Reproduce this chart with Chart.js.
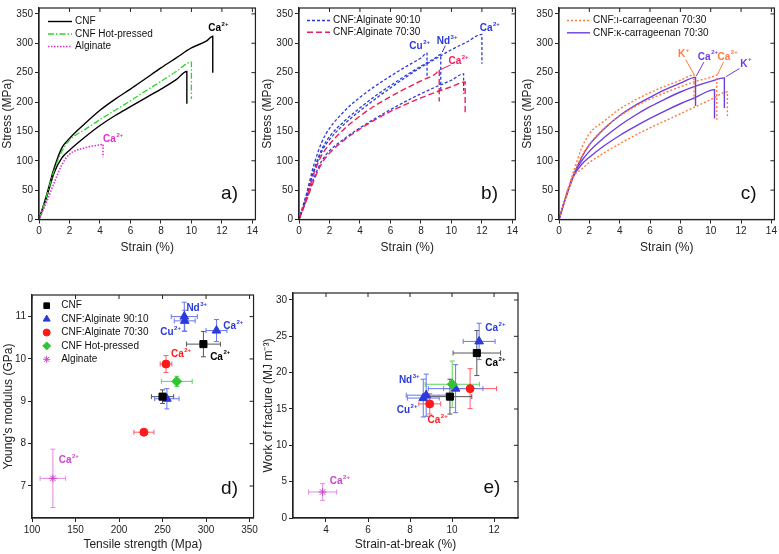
<!DOCTYPE html>
<html>
<head>
<meta charset="utf-8">
<script src="https://cdn.jsdelivr.net/npm/chart.js@4.4.1/dist/chart.umd.min.js"></script>
<style>
  html, body { margin: 0; padding: 0; background: #fff; }
  body { width: 779px; height: 554px; position: relative; overflow: hidden; }
  canvas { position: absolute; }
</style>
</head>
<body>
<canvas id="pa" width="260" height="256" style="left:0;top:0"></canvas>
<canvas id="pb" width="260" height="256" style="left:260px;top:0"></canvas>
<canvas id="pc" width="259" height="256" style="left:520px;top:0"></canvas>
<canvas id="pd" width="260" height="274" style="left:0;top:280px"></canvas>
<canvas id="pe" width="264" height="274" style="left:260px;top:280px"></canvas>
<script>
// ---- tick labels ----
var strainTicks  = [0, 2, 4, 6, 8, 10, 12, 14];
var stressTicks  = [0, 50, 100, 150, 200, 250, 300, 350];
var tensileTicks = [100, 150, 200, 250, 300, 350];
var modulusTicks = [7, 8, 9, 10, 11];
var breakTicks   = [4, 6, 8, 10, 12];
var workTicks    = [0, 5, 10, 15, 20, 25, 30];

// ---- a) stress-strain, strain (%) / stress (MPa) ----
var aCnf1X = [0, 0.5, 1, 1.5, 2, 3, 4, 5, 6, 7, 8, 9, 10, 11, 11.4, 11.4];
var aCnf1Y = [0, 42, 88, 122, 138, 163, 186, 205, 222, 240, 258, 275, 292, 304, 312, 250];
var aCnf2X = [0, 0.5, 1, 1.5, 2, 3, 4, 5, 6, 7, 8, 9, 9.7, 9.7];
var aCnf2Y = [0, 38, 80, 105, 118, 140, 160, 177, 192, 207, 222, 238, 252, 197];
var aHotX  = [0, 0.5, 1, 1.5, 2, 3, 4, 5, 6, 7, 8, 9, 10, 10];
var aHotY  = [0, 40, 84, 116, 135, 153, 170, 186, 202, 219, 235, 252, 268, 205];
var aAlgX  = [0, 0.5, 1, 1.5, 2, 2.5, 3, 3.5, 4, 4.2, 4.2];
var aAlgY  = [0, 30, 63, 93, 111, 118, 122, 125, 127, 128, 106];

// ---- b) CNF:Alginate ----
var bCuX  = [0, 0.5, 1, 1.5, 2, 3, 4, 5, 6, 7, 8, 8.4, 8.4];
var bCuY  = [0, 45, 95, 132, 155, 185, 208, 227, 244, 260, 275, 283, 240];
var bNdX  = [0, 0.5, 1, 1.5, 2, 3, 4, 5, 6, 7, 8, 9, 9.3, 9.3];
var bNdY  = [0, 40, 86, 120, 141, 168, 190, 210, 228, 245, 261, 276, 281, 218];
var bCaX  = [0, 0.5, 1, 1.5, 2, 3, 4, 5, 6, 7, 8, 9, 10, 11, 12, 12];
var bCaY  = [0, 40, 83, 116, 136, 163, 185, 205, 224, 242, 259, 274, 289, 302, 315, 265];
var bLowX = [0, 0.5, 1, 1.5, 2, 3, 4, 5, 6, 7, 8, 9, 10, 10.8, 10.8];
var bLowY = [0, 35, 72, 100, 117, 138, 156, 172, 187, 201, 214, 226, 237, 248, 214];
var bR1X  = [0, 0.5, 1, 1.5, 2, 3, 4, 5, 6, 7, 8, 9, 9.2, 9.2];
var bR1Y  = [0, 38, 80, 110, 128, 155, 176, 194, 209, 223, 236, 249, 255, 201];
var bR2X  = [0, 0.5, 1, 1.5, 2, 3, 4, 5, 6, 7, 8, 9, 10, 10.9, 10.9];
var bR2Y  = [0, 33, 68, 96, 113, 136, 154, 170, 184, 196, 207, 217, 226, 234, 182];

// ---- c) carrageenan ----
var cO1X = [0, 0.5, 1, 1.5, 2, 3, 4, 5, 6, 7, 8, 8.9, 8.9];
var cO1Y = [0, 45, 85, 122, 146, 168, 188, 203, 216, 227, 237, 246, 204];
var cP1X = [0, 0.5, 1, 1.5, 2, 3, 4, 5, 6, 7, 8, 9, 9];
var cP1Y = [0, 42, 78, 106, 127, 155, 177, 194, 208, 221, 232, 242, 193];
var cO2X = [0, 0.5, 1, 1.5, 2, 3, 4, 5, 6, 7, 8, 9, 10, 10.4, 10.4];
var cO2Y = [0, 42, 80, 108, 128, 156, 176, 192, 205, 216, 226, 235, 242, 246, 170];
var cP3X = [0, 0.5, 1, 1.5, 2, 3, 4, 5, 6, 7, 8, 9, 10, 10.9, 10.9];
var cP3Y = [0, 42, 78, 100, 116, 140, 160, 177, 192, 205, 217, 227, 235, 241, 190];
var cP2X = [0, 0.5, 1, 1.5, 2, 3, 4, 5, 6, 7, 8, 9, 10.25, 10.25];
var cP2Y = [0, 42, 76, 94, 106, 126, 143, 158, 172, 185, 197, 208, 221, 172];
var cO3X = [0, 0.5, 1, 1.5, 2, 3, 4, 5, 6, 7, 8, 9, 10, 11.1, 11.1];
var cO3Y = [0, 40, 74, 86, 97, 114, 129, 143, 156, 168, 180, 192, 204, 217, 176];

// ---- d) tensile strength (MPa) vs Young's modulus (GPa) ----
var dCnfX = [250, 297],  dCnfXErr = [12.8, 19.5], dCnfY = [9.11, 10.35], dCnfYErr = [0.16, 0.30];
var dA90X = [275, 275.5, 312, 255], dA90XErr = [15, 12, 12, 14];
var dA90Y = [11.0, 10.9, 10.67, 9.06], dA90YErr = [0.34, 0.25, 0.26, 0.24];
var dA70X = [254, 228.6], dA70XErr = [6.7, 11.5], dA70Y = [9.88, 8.27], dA70YErr = [0.2, 0.05];
var dHotX = [266.4], dHotXErr = [17.7], dHotY = [9.47], dHotYErr = [0.12];
var dAlgX = [124],   dAlgXErr = [14.7], dAlgY = [7.18], dAlgYErr = [0.69];

// ---- e) strain-at-break (%) vs work of fracture (MJ m-3) ----
var eCnfX = [11.18, 9.9], eCnfXErr = [1.13, 1.04], eCnfY = [22.7, 16.7], eCnfYErr = [3.1, 2.4];
var eA90X = [11.29, 10.17, 8.77, 8.63], eA90XErr = [0.76, 1.3, 0.95, 0.76];
var eA90Y = [24.3, 17.8, 16.9, 16.5],   eA90YErr = [2.5, 3.3, 2.9, 2.6];
var eA70X = [10.86, 8.94], eA70XErr = [1.26, 0.52], eA70Y = [17.8, 15.7], eA70YErr = [2.75, 1.4];
var eHotX = [10.01], eHotXErr = [1.29], eHotY = [18.4], eHotYErr = [3.2];
var eAlgX = [3.84],  eAlgXErr = [0.67], eAlgY = [3.58], eAlgYErr = [1.15];

var FAMILY = '"Liberation Sans", Arial, sans-serif';
var INK = '#222';
var C = {
  black: '#000000', green: '#2bd42b', magenta: '#e030d0',
  blue: '#2b3bd9', red: '#ee1d5a', orange: '#ff7a3d', purple: '#6b3fe0',
  dRed: '#ff1a1a', dGreen: '#33c433', dMag: '#cc44cc'
};
Chart.defaults.font.family = FAMILY;

function xy(xs, ys) {
  return xs.map(function (x, i) { return { x: x, y: ys[i] }; });
}

function curve(xs, ys, color, dash, width) {
  return {
    data: xy(xs, ys), showLine: true, borderColor: color, backgroundColor: color,
    borderWidth: width || 1.3, borderDash: dash || [], pointRadius: 0,
    cubicInterpolationMode: 'monotone'
  };
}

function marks(xs, ys, style, radius, color) {
  return {
    data: xy(xs, ys), showLine: false, pointStyle: style, pointRadius: radius,
    backgroundColor: color, borderColor: color, borderWidth: 1
  };
}

function axis(pos, min, max, ticks, title, size, titlePad) {
  return {
    type: 'linear', position: pos, min: min, max: max,
    afterBuildTicks: function (s) { s.ticks = ticks.map(function (v) { return { value: v }; }); },
    afterFit: function (s) { if (pos === 'bottom') s.height = size; else s.width = size; },
    grid: { drawOnChartArea: false, tickLength: 4, color: INK, lineWidth: 1 },
    border: { display: true, color: INK, width: 1.2 },
    ticks: { color: INK, font: { size: 10 }, padding: 2, maxRotation: 0, autoSkip: false },
    title: { display: true, text: title, color: INK, font: { size: 12 }, padding: { top: titlePad, bottom: titlePad } }
  };
}

function supText(ctx, cx, cy, base, sup, color, size, bold) {
  var f = (bold ? 'bold ' : '') + size + 'px ' + FAMILY;
  var fs = (bold ? 'bold ' : '') + Math.round(size * 0.62) + 'px ' + FAMILY;
  ctx.font = f;
  var w1 = ctx.measureText(base).width;
  ctx.font = fs;
  var w2 = sup ? ctx.measureText(sup).width : 0;
  var x = cx - (w1 + w2) / 2;
  ctx.fillStyle = color;
  ctx.textBaseline = 'middle';
  ctx.textAlign = 'left';
  ctx.font = f;
  ctx.fillText(base, x, cy);
  if (sup) {
    ctx.font = fs;
    ctx.fillText(sup, x + w1 + 0.5, cy - size * 0.4);
  }
}

function drawMarker(ctx, style, x, y, r, color) {
  ctx.fillStyle = color;
  ctx.strokeStyle = color;
  ctx.lineWidth = 1;
  ctx.setLineDash([]);
  if (Chart.helpers && Chart.helpers.drawPoint) {
    Chart.helpers.drawPoint(ctx, { pointStyle: style, radius: r, rotation: 0, borderWidth: 1 }, x, y);
  } else {
    ctx.fillRect(x - r * 0.7, y - r * 0.7, r * 1.4, r * 1.4);
  }
}

// frame, inner ticks, legend, labels and error bars
function decor(spec) {
  return {
    id: 'decor',
    beforeDatasetsDraw: function (chart) {
      if (!spec.errors) return;
      var ctx = chart.ctx, sx = chart.scales.x, sy = chart.scales.y;
      ctx.save();
      spec.errors.forEach(function (e) {
        ctx.strokeStyle = e.color;
        ctx.lineWidth = 1;
        e.xs.forEach(function (xv, i) {
          var px = sx.getPixelForValue(xv), py = sy.getPixelForValue(e.ys[i]);
          var x0 = sx.getPixelForValue(xv - e.xe[i]), x1 = sx.getPixelForValue(xv + e.xe[i]);
          var y0 = sy.getPixelForValue(e.ys[i] - e.ye[i]), y1 = sy.getPixelForValue(e.ys[i] + e.ye[i]);
          ctx.beginPath();
          ctx.moveTo(x0, py); ctx.lineTo(x1, py);
          ctx.moveTo(x0, py - 2.5); ctx.lineTo(x0, py + 2.5);
          ctx.moveTo(x1, py - 2.5); ctx.lineTo(x1, py + 2.5);
          ctx.moveTo(px, y0); ctx.lineTo(px, y1);
          ctx.moveTo(px - 2.5, y0); ctx.lineTo(px + 2.5, y0);
          ctx.moveTo(px - 2.5, y1); ctx.lineTo(px + 2.5, y1);
          ctx.stroke();
        });
      });
      ctx.restore();
    },
    afterDraw: function (chart) {
      var ctx = chart.ctx, ca = chart.chartArea, sx = chart.scales.x, sy = chart.scales.y;
      ctx.save();
      ctx.setLineDash([]);
      ctx.strokeStyle = INK;
      ctx.lineWidth = 1.2;
      ctx.strokeRect(ca.left, ca.top, ca.right - ca.left, ca.bottom - ca.top);
      ctx.lineWidth = 1;
      ctx.beginPath();
      sx.ticks.forEach(function (t) {
        var p = sx.getPixelForValue(t.value);
        ctx.moveTo(p, ca.top); ctx.lineTo(p, ca.top + 4);
      });
      sy.ticks.forEach(function (t) {
        var p = sy.getPixelForValue(t.value);
        ctx.moveTo(ca.right, p); ctx.lineTo(ca.right - 4, p);
      });
      ctx.stroke();

      var lg = spec.legend;
      if (lg) {
        lg.items.forEach(function (it, i) {
          var y = ca.top + lg.y + i * lg.dy;
          var x = ca.left + lg.x;
          if (lg.type === 'line') {
            ctx.strokeStyle = it.color;
            ctx.lineWidth = it.width || 1.3;
            ctx.setLineDash(it.dash || []);
            ctx.beginPath();
            ctx.moveTo(x, y); ctx.lineTo(x + lg.len, y);
            ctx.stroke();
            ctx.setLineDash([]);
            x += lg.len + 3;
          } else {
            drawMarker(ctx, it.style, x, y, it.r, it.color);
            x += lg.gap;
          }
          ctx.fillStyle = '#111';
          ctx.font = '10px ' + FAMILY;
          ctx.textAlign = 'left';
          ctx.textBaseline = 'middle';
          ctx.fillText(it.label, x, y);
        });
      }

      (spec.leaders || []).forEach(function (l) {
        ctx.strokeStyle = l.color;
        ctx.lineWidth = 1;
        ctx.beginPath();
        ctx.moveTo(sx.getPixelForValue(l.x0), sy.getPixelForValue(l.y0));
        ctx.lineTo(sx.getPixelForValue(l.x1), sy.getPixelForValue(l.y1));
        ctx.stroke();
      });

      (spec.notes || []).forEach(function (n) {
        supText(ctx, sx.getPixelForValue(n.x), sy.getPixelForValue(n.y), n.base, n.sup,
          n.color, n.size || 10, n.bold !== false);
      });
      ctx.restore();
    }
  };
}

function makeChart(id, datasets, scales, padding, spec) {
  return new Chart(document.getElementById(id), {
    type: 'scatter',
    data: { datasets: datasets },
    options: {
      responsive: false, animation: false, events: [],
      layout: { padding: padding },
      scales: scales,
      plugins: { legend: { display: false }, tooltip: { enabled: false } }
    },
    plugins: [decor(spec)]
  });
}

function strainAxes() {
  return {
    x: axis('bottom', 0, 14.2, strainTicks, 'Strain (%)', 36.5, 0.8),
    y: axis('left', 0, 360, stressTicks, 'Stress (MPa)', 39, 0)
  };
}
var topPad = { left: 0, top: 3, right: 4, bottom: 0 };

// a)
makeChart('pa', [
  curve(aAlgX, aAlgY, C.magenta, [1.5, 1.5], 1.6),
  curve(aHotX, aHotY, C.green, [6, 2, 1.5, 2], 1.3),
  curve(aCnf2X, aCnf2Y, C.black, [], 1.4),
  curve(aCnf1X, aCnf1Y, C.black, [], 1.4)
], strainAxes(), topPad, {
  legend: { type: 'line', x: 9, y: 13.5, dy: 12.5, len: 24, items: [
    { label: 'CNF', color: C.black, width: 1.4 },
    { label: 'CNF Hot-pressed', color: C.green, dash: [6, 2, 1.5, 2] },
    { label: 'Alginate', color: C.magenta, dash: [1.5, 1.5], width: 1.6 }
  ] },
  notes: [
    { x: 11.75, y: 325, base: 'Ca', sup: '2+', color: '#000' },
    { x: 4.85, y: 137, base: 'Ca', sup: '2+', color: C.magenta },
    { x: 12.5, y: 44, base: 'a)', sup: '', color: '#111', size: 19, bold: false }
  ]
});

// b)
makeChart('pb', [
  curve(bR2X, bR2Y, C.red, [6, 3], 1.4),
  curve(bR1X, bR1Y, C.red, [6, 3], 1.4),
  curve(bLowX, bLowY, C.blue, [3, 2], 1.3),
  curve(bCaX, bCaY, C.blue, [3, 2], 1.3),
  curve(bNdX, bNdY, C.blue, [3, 2], 1.3),
  curve(bCuX, bCuY, C.blue, [3, 2], 1.3)
], strainAxes(), topPad, {
  legend: { type: 'line', x: 8, y: 12.5, dy: 11.8, len: 23, items: [
    { label: 'CNF:Alginate 90:10', color: C.blue, dash: [3, 2] },
    { label: 'CNF:Alginate 70:30', color: C.red, dash: [6, 3], width: 1.4 }
  ] },
  leaders: [
    { x0: 9.6, y0: 296, x1: 9.4, y1: 285, color: C.blue },
    { x0: 9.95, y0: 263, x1: 9.25, y1: 255, color: C.red }
  ],
  notes: [
    { x: 12.5, y: 326, base: 'Ca', sup: '2+', color: C.blue },
    { x: 7.9, y: 295, base: 'Cu', sup: '2+', color: C.blue },
    { x: 9.7, y: 304, base: 'Nd', sup: '3+', color: C.blue },
    { x: 10.45, y: 270, base: 'Ca', sup: '2+', color: C.red },
    { x: 12.5, y: 44, base: 'b)', sup: '', color: '#111', size: 19, bold: false }
  ]
});

// c)
makeChart('pc', [
  curve(cO3X, cO3Y, C.orange, [2, 2], 1.4),
  curve(cO2X, cO2Y, C.orange, [2, 2], 1.4),
  curve(cO1X, cO1Y, C.orange, [2, 2], 1.4),
  curve(cP2X, cP2Y, C.purple, [], 1.4),
  curve(cP3X, cP3Y, C.purple, [], 1.4),
  curve(cP1X, cP1Y, C.purple, [], 1.4)
], strainAxes(), { left: 0, top: 3, right: 3, bottom: 0 }, {
  legend: { type: 'line', x: 8, y: 12.5, dy: 12.3, len: 23, items: [
    { label: 'CNF:\u0131-carrageenan 70:30', color: C.orange, dash: [2, 2], width: 1.4 },
    { label: 'CNF:\u03ba-carrageenan 70:30', color: C.purple, width: 1.4 }
  ] },
  leaders: [
    { x0: 8.35, y0: 272, x1: 8.9, y1: 247, color: C.orange },
    { x0: 9.55, y0: 268, x1: 9.05, y1: 244, color: C.purple },
    { x0: 10.85, y0: 268, x1: 10.45, y1: 247, color: C.orange },
    { x0: 11.9, y0: 257, x1: 11.0, y1: 243, color: C.purple }
  ],
  notes: [
    { x: 8.2, y: 281, base: 'K', sup: '+', color: C.orange },
    { x: 9.8, y: 277, base: 'Ca', sup: '2+', color: C.purple },
    { x: 11.1, y: 277, base: 'Ca', sup: '2+', color: C.orange },
    { x: 12.3, y: 265, base: 'K', sup: '+', color: C.purple },
    { x: 12.5, y: 44, base: 'c)', sup: '', color: '#111', size: 19, bold: false }
  ]
});

// d)
makeChart('pd', [
  marks(dAlgX, dAlgY, 'star', 4, C.dMag),
  marks(dHotX, dHotY, 'rectRot', 5, C.dGreen),
  marks(dA70X, dA70Y, 'circle', 4, C.dRed),
  marks(dCnfX, dCnfY, 'rect', 5, C.black),
  marks(dA90X, dA90Y, 'triangle', 5, C.blue)
], {
  x: axis('bottom', 100, 354.6, tensileTicks, 'Tensile strength (Mpa)', 36, 1.8),
  y: axis('left', 6.244, 11.51, modulusTicks, "Young's modulus (GPa)", 32, 1)
}, { left: 0, top: 15, right: 5, bottom: 0 }, {
  errors: [
    { xs: dAlgX, ys: dAlgY, xe: dAlgXErr, ye: dAlgYErr, color: '#e08ae0' },
    { xs: dHotX, ys: dHotY, xe: dHotXErr, ye: dHotYErr, color: '#5ad65a' },
    { xs: dA70X, ys: dA70Y, xe: dA70XErr, ye: dA70YErr, color: '#ff5a6a' },
    { xs: dCnfX, ys: dCnfY, xe: dCnfXErr, ye: dCnfYErr, color: '#555' },
    { xs: dA90X, ys: dA90Y, xe: dA90XErr, ye: dA90YErr, color: '#6676ee' }
  ],
  legend: { type: 'marker', x: 14.7, y: 10.7, dy: 13.4, gap: 14.5, items: [
    { label: 'CNF', style: 'rect', r: 4, color: C.black },
    { label: 'CNF:Alginate 90:10', style: 'triangle', r: 4, color: C.blue },
    { label: 'CNF:Alginate 70:30', style: 'circle', r: 3.5, color: C.dRed },
    { label: 'CNF Hot-pressed', style: 'rectRot', r: 4, color: C.dGreen },
    { label: 'Alginate', style: 'star', r: 3.5, color: C.dMag }
  ] },
  notes: [
    { x: 289, y: 11.2, base: 'Nd', sup: '3+', color: C.blue },
    { x: 259, y: 10.62, base: 'Cu', sup: '2+', color: C.blue },
    { x: 331, y: 10.78, base: 'Ca', sup: '2+', color: C.blue },
    { x: 316, y: 10.05, base: 'Ca', sup: '2+', color: '#000' },
    { x: 271, y: 10.1, base: 'Ca', sup: '2+', color: C.dRed },
    { x: 142, y: 7.6, base: 'Ca', sup: '2+', color: C.dMag },
    { x: 327, y: 6.93, base: 'd)', sup: '', color: '#111', size: 19, bold: false }
  ]
});

// e)
makeChart('pe', [
  marks(eAlgX, eAlgY, 'star', 4, C.dMag),
  marks(eHotX, eHotY, 'rectRot', 5, C.dGreen),
  marks(eA70X, eA70Y, 'circle', 4, C.dRed),
  marks(eCnfX, eCnfY, 'rect', 5, C.black),
  marks(eA90X, eA90Y, 'triangle', 5, C.blue)
], {
  x: axis('bottom', 2.43, 13.14, breakTicks, 'Strain-at-break (%)', 36, 1.8),
  y: axis('left', 0, 30.96, workTicks, 'Work of fracture (MJ m\u207B\u00B3)', 33, 1.1)
}, { left: 0, top: 13, right: 6, bottom: 0 }, {
  errors: [
    { xs: eAlgX, ys: eAlgY, xe: eAlgXErr, ye: eAlgYErr, color: '#e08ae0' },
    { xs: eHotX, ys: eHotY, xe: eHotXErr, ye: eHotYErr, color: '#5ad65a' },
    { xs: eA70X, ys: eA70Y, xe: eA70XErr, ye: eA70YErr, color: '#ff5a6a' },
    { xs: eCnfX, ys: eCnfY, xe: eCnfXErr, ye: eCnfYErr, color: '#555' },
    { xs: eA90X, ys: eA90Y, xe: eA90XErr, ye: eA90YErr, color: '#6676ee' }
  ],
  notes: [
    { x: 12.05, y: 26.1, base: 'Ca', sup: '2+', color: C.blue },
    { x: 12.05, y: 21.3, base: 'Ca', sup: '2+', color: '#000' },
    { x: 7.95, y: 19.0, base: 'Nd', sup: '3+', color: C.blue },
    { x: 7.85, y: 14.8, base: 'Cu', sup: '2+', color: C.blue },
    { x: 9.3, y: 13.5, base: 'Ca', sup: '2+', color: C.dRed },
    { x: 4.65, y: 5.0, base: 'Ca', sup: '2+', color: C.dMag },
    { x: 11.9, y: 4.1, base: 'e)', sup: '', color: '#111', size: 19, bold: false }
  ]
});
</script>
</body>
</html>
